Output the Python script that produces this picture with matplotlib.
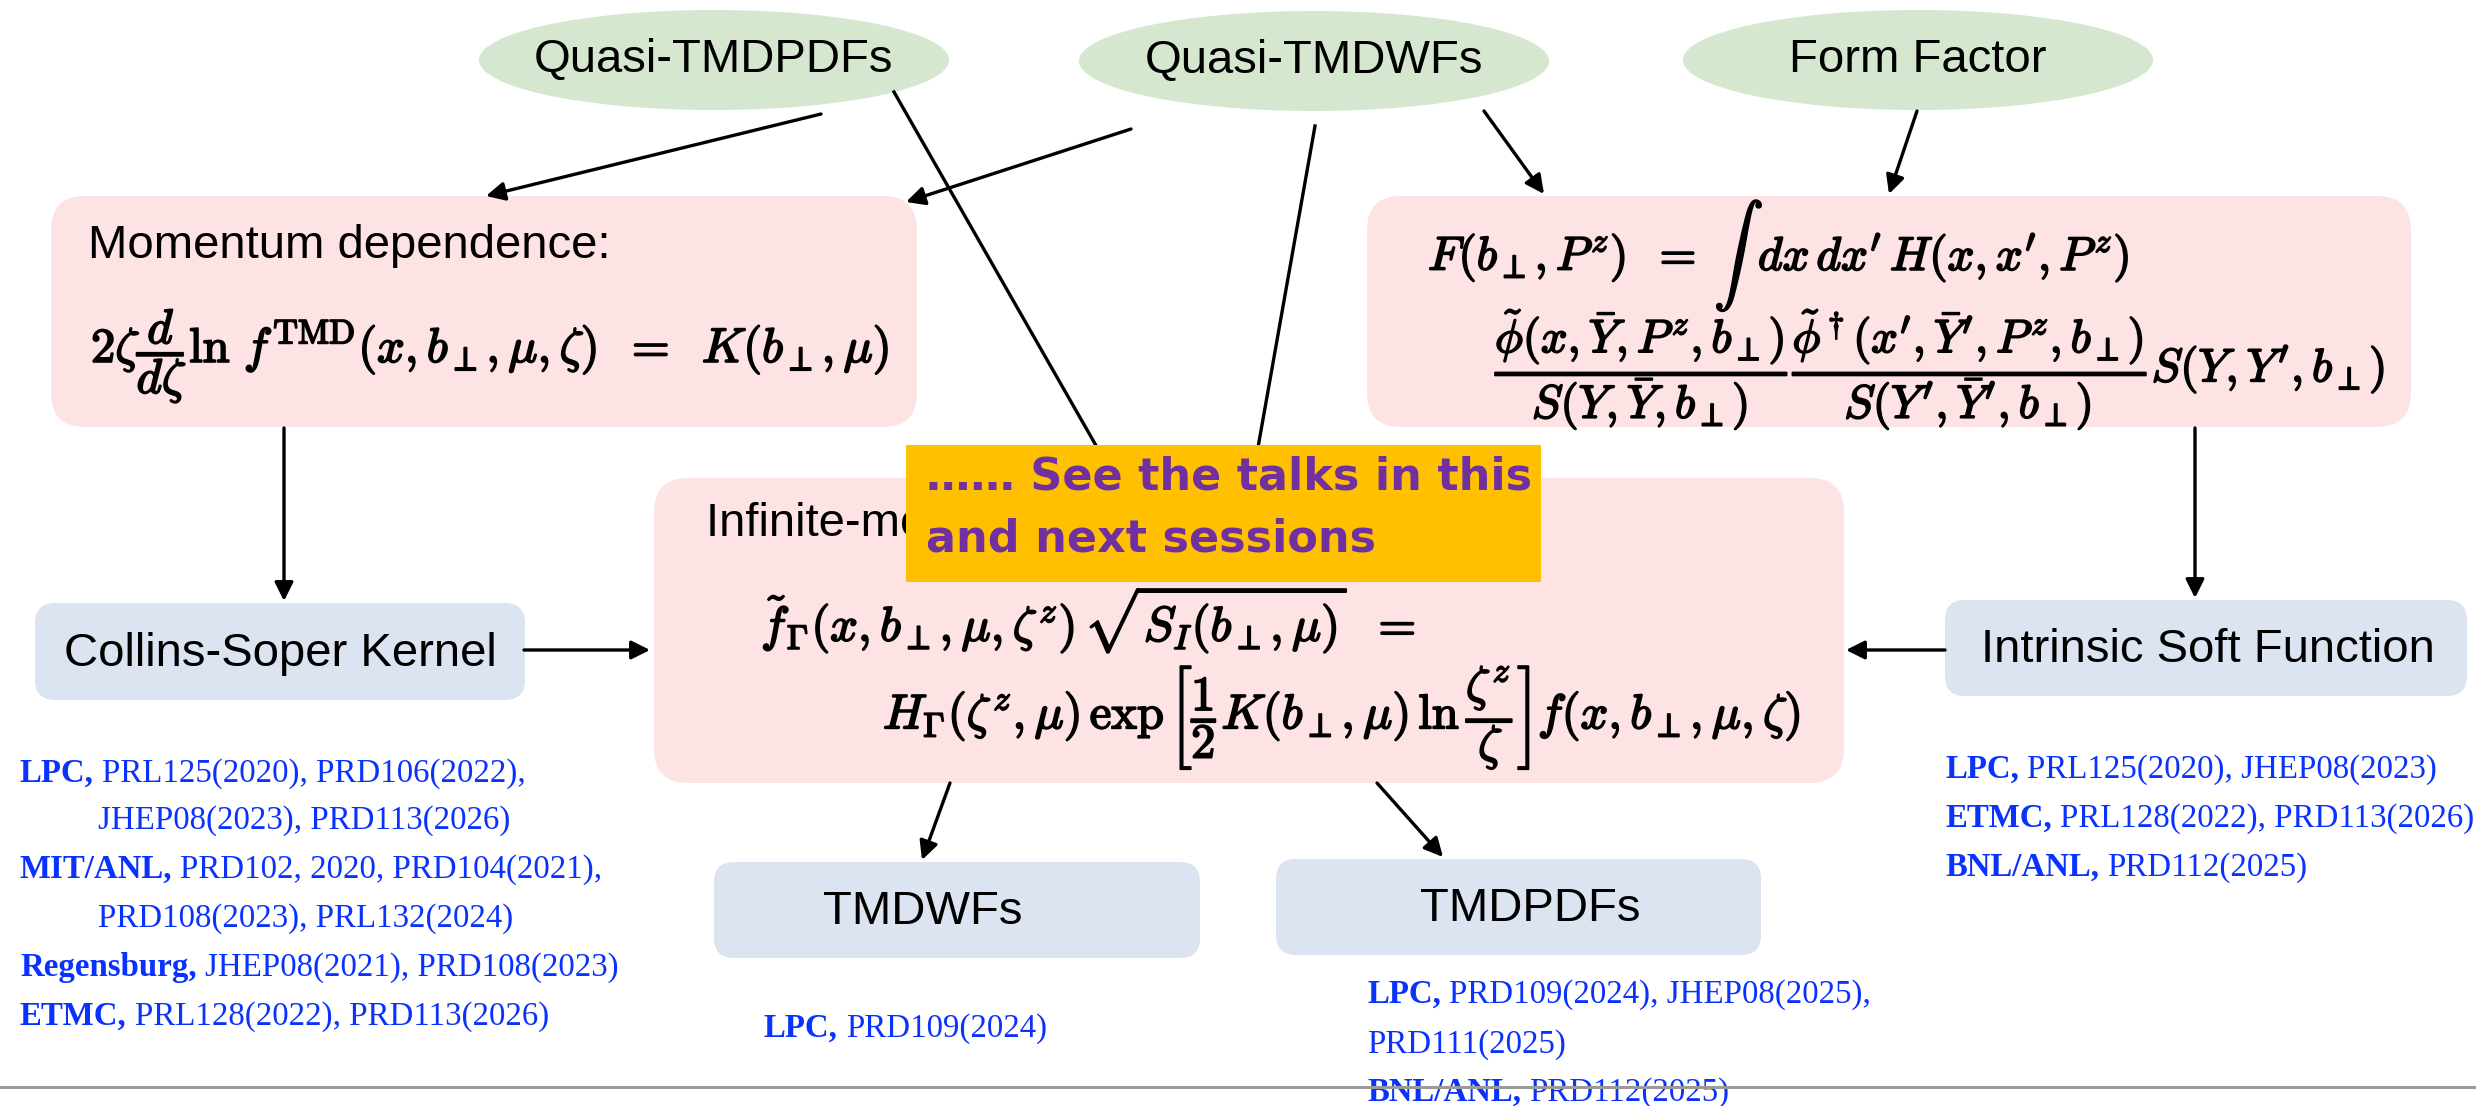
import matplotlib
matplotlib.use("Agg")
import matplotlib.pyplot as plt
import matplotlib.patheffects as pe
from matplotlib.patches import Ellipse, FancyBboxPatch

plt.rcParams["mathtext.fontset"] = "cm"

# --- content ---------------------------------------------------------------
source_labels = ["Quasi-TMDPDFs", "Quasi-TMDWFs", "Form Factor"]
result_labels = ["Collins-Soper Kernel", "Intrinsic Soft Function", "TMDWFs", "TMDPDFs"]

momentum_title = "Momentum dependence:"
factorization_title = "Infinite-momentum factorization:"
momentum_eq = r"$2\zeta\dfrac{d}{d\zeta}\ln\,f^{\rm TMD}(x,b_\perp,\mu,\zeta)\;\;=\;\;K(b_\perp,\mu)$"
form_factor_eq = [
    r"$F(b_\perp,P^z)\;\;=$",
    r"$\int$",
    r"$dx\,dx'\,H(x,x',P^z)$",
    r"$\dfrac{\tilde{\phi}(x,\bar{Y},P^z,b_\perp)}{S(Y,\bar{Y},b_\perp)}"
    r"\dfrac{\tilde{\phi}^\dagger(x',\bar{Y}',P^z,b_\perp)}{S(Y',\bar{Y}',b_\perp)}S(Y,Y',b_\perp)$",
]
factorization_eq = [
    r"$\tilde{f}_\Gamma(x,b_\perp,\mu,\zeta^z)\,\sqrt{S_I(b_\perp,\mu)}\;\;=$",
    r"$H_\Gamma(\zeta^z,\mu)\,\exp\left[\dfrac{1}{2}K(b_\perp,\mu)\,\ln\dfrac{\zeta^z}{\zeta}\right]f(x,b_\perp,\mu,\zeta)$",
]
note_lines = ["\u2026\u2026 See the talks in this", "and next sessions"]

refs_cs_kernel = [
    ("LPC,", "PRL125(2020), PRD106(2022),"),
    ("", "JHEP08(2023), PRD113(2026)"),
    ("MIT/ANL,", "PRD102, 2020, PRD104(2021),"),
    ("", "PRD108(2023), PRL132(2024)"),
    ("Regensburg,", "JHEP08(2021), PRD108(2023)"),
    ("ETMC,", "PRL128(2022), PRD113(2026)"),
]
refs_soft = [
    ("LPC,", "PRL125(2020), JHEP08(2023)"),
    ("ETMC,", "PRL128(2022), PRD113(2026)"),
    ("BNL/ANL,", "PRD112(2025)"),
]
refs_wfs = [("LPC,", "PRD109(2024)")]
refs_pdfs = [
    ("LPC,", "PRD109(2024), JHEP08(2025),"),
    ("", "PRD111(2025)"),
    ("BNL/ANL,", "PRD112(2025)"),
]

# --- layout (pixel coordinates, y downward) --------------------------------
ellipse_centers = [(714, 60), (1314, 61), (1918, 60)]
ellipse_size = (470, 100)

pink = "#fde3e3"
green = "#d5e8cf"
blue_box = "#dce3f1"
ref_blue = "#0a32ff"
pink_boxes = [(51, 196, 866, 231), (1367, 196, 1044, 231), (654, 478, 1190, 305)]
blue_boxes = [(35, 603, 490, 97), (1945, 600, 522, 96), (714, 862, 486, 96), (1276, 859, 485, 96)]
label_x = [280, 2208, 923, 1530]

fig = plt.figure(figsize=(24.76, 11.06), dpi=100)
ax = fig.add_axes([0, 0, 1, 1])
ax.set_xlim(0, 2476)
ax.set_ylim(1106, 0)
ax.axis("off")

sans = "Liberation Sans"
serif = "Liberation Serif"
bold_math = [pe.withStroke(linewidth=1.3, foreground="black")]

for (cx, cy), label in zip(ellipse_centers, source_labels):
    ax.add_patch(Ellipse((cx, cy), *ellipse_size, facecolor=green, edgecolor="none", zorder=1))
    ax.text(cx, cy, label, family=sans, fontsize=34, ha="center", va="center", zorder=2)

for x, y, w, h in pink_boxes:
    ax.add_patch(FancyBboxPatch((x, y), w, h, boxstyle="round,pad=0,rounding_size=34",
                                facecolor=pink, edgecolor="none", zorder=1))

for (x, y, w, h), lx, label in zip(blue_boxes, label_x, result_labels):
    ax.add_patch(FancyBboxPatch((x, y), w, h, boxstyle="round,pad=0,rounding_size=20",
                                facecolor=blue_box, edgecolor="none", zorder=1))
    ax.text(lx, y + h / 2 + 2, label, family=sans, fontsize=34, ha="center", va="center", zorder=2)

# box texts
ax.text(88, 246, momentum_title, family=sans, fontsize=34, va="center", zorder=2)
ax.text(91, 356, momentum_eq, fontsize=35, va="center", zorder=2, path_effects=bold_math)
ax.text(1428, 258, form_factor_eq[0], fontsize=34, va="center", zorder=2, path_effects=bold_math)
ax.text(1714, 256, form_factor_eq[1], fontsize=36, va="center", zorder=2, path_effects=bold_math)
ax.text(1758, 258, form_factor_eq[2], fontsize=34, va="center", zorder=2, path_effects=bold_math)
ax.text(1495, 370, form_factor_eq[3], fontsize=33.6, va="center", zorder=2, path_effects=bold_math)
ax.text(706, 524, factorization_title, family=sans, fontsize=34, va="center", zorder=2)
ax.text(761, 620, factorization_eq[0], fontsize=35, va="center", zorder=2, path_effects=bold_math)
ax.text(883, 717, factorization_eq[1], fontsize=35, va="center", zorder=2, path_effects=bold_math)

# connectors
arrows = [
    ((821, 114), (486, 196)),
    ((1131, 129), (906, 202)),
    ((1484, 111), (1544, 194)),
    ((1917, 111), (1889, 194)),
    ((284, 428), (284, 601)),
    ((524, 650), (650, 650)),
    ((2195, 428), (2195, 598)),
    ((1945, 650), (1846, 650)),
    ((950, 783), (922, 860)),
    ((1377, 783), (1443, 857)),
]
for start, end in arrows:
    ax.annotate("", xy=end, xytext=start, zorder=3,
                arrowprops=dict(arrowstyle="-|>", color="black", lw=2.4,
                                mutation_scale=28, shrinkA=0, shrinkB=0))
ax.plot([894, 1110], [92, 470], color="black", lw=2.4, zorder=3)
ax.plot([1315, 1254], [126, 470], color="black", lw=2.4, zorder=3)

# yellow note
ax.add_patch(plt.Rectangle((906, 445), 635, 137, facecolor="#ffc000", edgecolor="none", zorder=4))
ax.text(926, 477, note_lines[0], family="DejaVu Sans", fontweight="bold", fontsize=32,
        color="#7030a0", va="center", zorder=5)
ax.text(926, 539, note_lines[1], family="DejaVu Sans", fontweight="bold", fontsize=32,
        color="#7030a0", va="center", zorder=5)

# references
fig.canvas.draw()
renderer = fig.canvas.get_renderer()


def draw_refs(x, baselines, refs, indent=0):
    for y, (group, papers) in zip(baselines, refs):
        if group:
            t = ax.text(x, y, group, family=serif, fontweight="bold", fontsize=23.7,
                        color=ref_blue, va="baseline", zorder=2)
            w = t.get_window_extent(renderer).width
            ax.text(x + w + 8, y, papers, family=serif, fontsize=23.7, color=ref_blue,
                    va="baseline", zorder=2)
        else:
            ax.text(x + indent, y, papers, family=serif, fontsize=23.7, color=ref_blue,
                    va="baseline", zorder=2)


draw_refs(20, [782, 829, 878, 927, 976, 1025], refs_cs_kernel, indent=78)
draw_refs(1945, [778, 827, 876], refs_soft)
draw_refs(764, [1037], refs_wfs)
draw_refs(1367, [1003, 1053, 1101], refs_pdfs)

ax.plot([0, 2476], [1087, 1087], color="#9a9a9a", lw=2.2, zorder=3)

fig.savefig("out.png", dpi=100)
